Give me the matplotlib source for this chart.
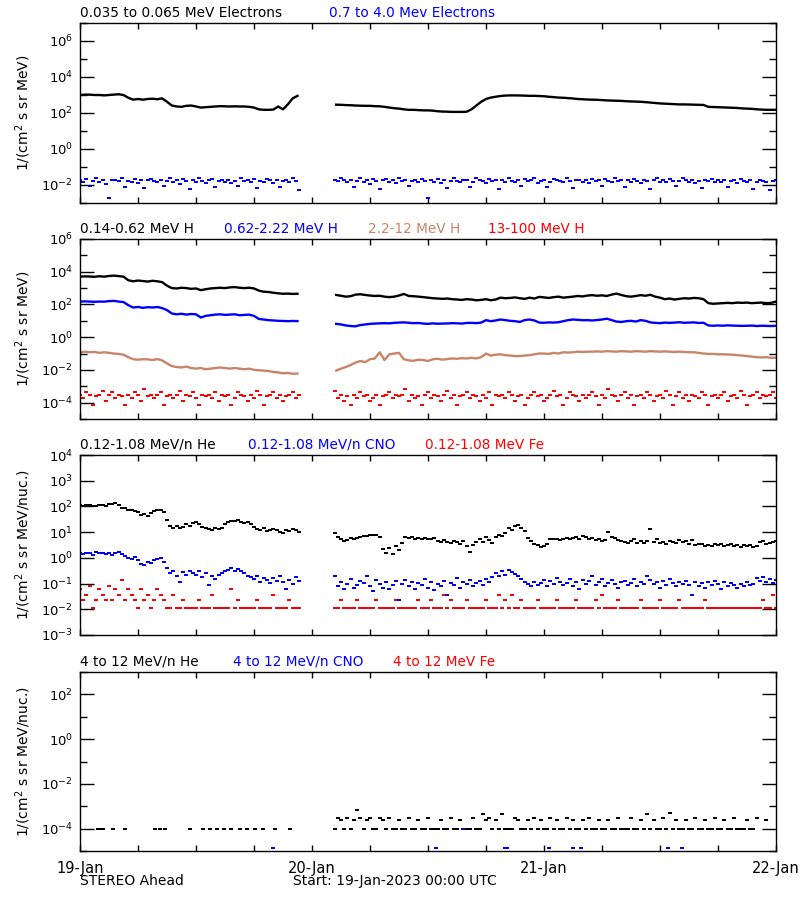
import numpy as np
import matplotlib
matplotlib.use("Agg")
import matplotlib.pyplot as plt
from matplotlib.ticker import FixedLocator, LogFormatterMathtext, NullFormatter

# time axis: hours after 19-Jan-2023 00:00 UTC; data gap ~22.7h .. 26.3h
# 30-min cadence for smooth channels, 20-min cadence for noisy channels

# --- panel 1: electrons ---
e_lo_a = [1000, 1050, 1050, 1000, 1000, 950, 1000, 1050, 1100, 1000, 700, 550, 600, 550, 600, 620,
          580, 650, 420, 260, 230, 220, 250, 260, 230, 200, 210, 220, 230, 240, 235, 230, 235, 230,
          230, 220, 200, 160, 150, 150, 155, 230, 160, 300, 650, 900]
e_lo_b = [290, 285, 275, 270, 260, 255, 250, 250, 240, 235, 220, 200, 185, 175, 160, 150, 150, 145,
          140, 140, 135, 125, 120, 118, 115, 115, 115, 118, 160, 260, 420, 600, 720, 800, 880, 930,
          950, 950, 940, 920, 900, 900, 880, 850, 800, 760, 720, 700, 670, 640, 600, 580, 560, 550,
          540, 520, 500, 490, 480, 470, 450, 440, 430, 420, 400, 380, 360, 340, 330, 320, 310, 300,
          300, 295, 290, 285, 280, 220, 215, 210, 205, 200, 195, 190, 180, 175, 170, 160, 155, 150,
          150, 150]
# units of 1e-2
e_hi_a = [1.8, 1.5, 2.2, 0.9, 1.7, 2.6, 1.4, 1.9, 1.2, 0.2, 1.8, 2.0, 1.6, 2.4, 0.8, 1.7, 1.5, 2.1, 1.3, 1.9,
          0.7, 1.8, 2.2, 1.6, 1.4, 2.0, 0.9, 1.7, 2.3, 1.5, 1.8, 1.2, 2.1, 1.6, 0.6, 1.9, 1.4, 2.5, 1.7, 1.3,
          1.8, 2.2, 0.8, 1.6, 1.9, 1.5, 2.0, 1.3, 1.7, 0.9, 2.4, 1.6, 1.8, 1.4, 2.1, 0.7, 1.7, 1.5, 2.2, 1.9,
          1.3, 1.8, 0.8, 1.6, 2.0, 1.4, 2.3, 1.7, 0.5]
e_hi_b = [1.9, 1.6, 2.3, 1.8, 1.4, 2.0, 0.8, 1.7, 2.5, 1.5, 1.9, 1.2, 2.1, 1.7, 0.6, 1.8, 2.2, 1.5, 1.9, 1.3,
          2.4, 1.6, 1.8, 0.9, 1.7, 2.0, 1.4, 2.2, 1.6, 0.2, 1.8, 1.5, 2.1, 1.3, 1.9, 0.7, 1.7, 2.3, 1.6, 1.4,
          2.0, 1.8, 0.8, 1.5, 2.6, 1.9, 1.7, 1.3, 2.2, 1.6, 1.8, 0.6, 2.0, 1.5, 2.4, 1.7, 1.4, 1.9, 0.9, 2.1,
          1.6, 1.8, 2.3, 1.3, 1.7, 2.0, 0.8, 1.5, 2.2, 1.9, 1.6, 1.4, 2.5, 1.7, 0.7, 1.8, 2.0, 1.5, 1.9, 1.3,
          2.2, 1.6, 1.8, 0.9, 2.1, 1.7, 1.4, 2.4, 1.6, 1.9, 0.8, 1.8, 1.5, 2.2, 1.7, 1.3, 2.0, 1.6, 0.6, 1.9,
          2.3, 1.5, 1.8, 1.4, 2.1, 1.7, 0.9, 1.6, 2.4, 1.8, 1.5, 2.0, 1.3, 1.7, 0.7, 1.9, 1.6, 2.2, 1.4, 1.8,
          1.5, 2.0, 0.8, 1.7, 1.9, 1.3, 2.1, 1.6, 1.4, 1.8, 0.6, 1.5, 2.0, 1.7, 1.4, 0.5, 1.6, 1.8]

# --- panel 2: protons ---
h1_a = [5000, 5200, 5100, 4900, 5300, 5000, 5500, 5800, 5400, 5000, 3000, 2600, 2900, 2700, 2500, 2800,
        2600, 2300, 1400, 1000, 950, 1050, 1000, 900, 950, 750, 850, 950, 1000, 1050, 1000, 1100, 1150,
        1050, 1000, 1050, 950, 700, 600, 580, 520, 480, 450, 460, 440, 450]
h1_b = [380, 340, 300, 320, 400, 420, 380, 350, 330, 340, 300, 280, 300, 350, 440, 330, 320, 300, 280,
        260, 240, 230, 220, 230, 210, 200, 190, 210, 200, 180, 190, 210, 180, 200, 260, 240, 250, 270,
        240, 220, 260, 230, 290, 270, 250, 280, 300, 260, 280, 300, 330, 310, 350, 370, 340, 360, 330,
        400, 460, 380, 320, 300, 330, 370, 340, 390, 300, 260, 210, 230, 200, 220, 240, 230, 250, 240,
        210, 120, 110, 115, 120, 125, 120, 130, 125, 130, 120, 125, 130, 120, 125, 150]
h2_a = [150, 155, 150, 145, 150, 148, 160, 165, 150, 140, 90, 65, 70, 62, 68, 65, 70, 60, 45, 28,
        25, 27, 24, 26, 25, 16, 20, 22, 24, 25, 23, 24, 25, 22, 23, 24, 20, 13, 12, 11,
        10.5, 10, 9.8, 9.5, 9.8, 9.6]
h2_b = [6.5, 6.0, 5.2, 4.8, 4.6, 5.5, 6.0, 6.5, 6.8, 7.0, 7.2, 7.0, 7.5, 7.8,
        8.0, 7.6, 7.2, 7.4, 6.8, 6.5, 7.0, 6.6, 6.8, 6.9, 7.2, 7.0, 6.8, 7.4,
        7.5, 7.2, 7.8, 11, 9.5, 10.5, 12, 11, 10, 9.5, 8.5, 11, 12, 10.5, 7.8,
        7.6, 8.0, 7.8, 8.2, 9.5, 11, 12, 11.5, 10.8, 11, 10.5, 11.2, 12, 13.5, 11,
        9.0, 8.5, 9.5, 10, 9.0, 11, 10, 8.0, 7.5, 7.2, 7.8, 7.5, 7.8, 8.2, 7.6,
        7.8, 8.0, 7.4, 7.6, 5.2, 5.0, 5.2, 5.0, 5.3, 5.1, 5.0, 4.9, 5.0, 5.1, 4.8, 5.0, 4.9, 4.8, 5.0]
h3_a = [0.12, 0.13, 0.12, 0.125, 0.11, 0.12, 0.11, 0.10, 0.095, 0.085,
        0.06, 0.045, 0.042, 0.045, 0.044, 0.04, 0.046, 0.038, 0.025, 0.017,
        0.015, 0.014, 0.016, 0.013, 0.012, 0.013, 0.011, 0.012, 0.013, 0.014,
        0.013, 0.012, 0.013, 0.012, 0.011, 0.012, 0.010, 0.0095, 0.009, 0.0085,
        0.0075, 0.007, 0.0062, 0.0065, 0.0058, 0.006]
h3_b = [0.009, 0.012, 0.015, 0.02, 0.028, 0.035, 0.03, 0.045, 0.05, 0.12, 0.04, 0.09, 0.10, 0.11,
        0.045, 0.038, 0.036, 0.042, 0.040, 0.035, 0.045, 0.048, 0.042, 0.046, 0.05, 0.048, 0.052, 0.05,
        0.055, 0.05, 0.06, 0.10, 0.075, 0.085, 0.09, 0.08, 0.075, 0.07, 0.07, 0.075, 0.08, 0.09, 0.10,
        0.10, 0.095, 0.11, 0.10, 0.12, 0.115, 0.12, 0.13, 0.125, 0.13, 0.13, 0.135, 0.13, 0.14, 0.135,
        0.13, 0.14, 0.135, 0.13, 0.14, 0.135, 0.13, 0.14, 0.135, 0.13, 0.135, 0.13, 0.125, 0.13, 0.125,
        0.12, 0.12, 0.11, 0.10, 0.095, 0.095, 0.09, 0.09, 0.088, 0.085, 0.08, 0.075, 0.07, 0.065, 0.06,
        0.058, 0.06, 0.055, 0.056]
# units of 1e-4
h4_a = [3.1, 1.9, 4.3, 3.1, 0.7, 2.5, 3.1, 5.0, 1.3, 3.1, 4.3, 1.9, 3.1, 2.5, 0.7, 3.1, 1.9, 4.3, 3.1, 1.3,
        7.0, 2.5, 3.1, 1.9, 3.1, 4.3, 0.7, 2.5, 3.1, 1.9, 3.1, 5.0, 1.3, 3.1, 2.5, 4.3, 1.9, 0.7, 3.1, 2.5,
        3.1, 1.9, 4.3, 1.3, 3.1, 2.5, 3.1, 0.7, 1.9, 4.3, 3.1, 2.5, 1.3, 3.1, 1.9, 5.0, 3.1, 0.7, 2.5, 3.1,
        4.3, 1.9, 3.1, 1.3, 2.5, 3.1, 4.3, 1.9, 3.1]
h4_b = [5.0, 1.9, 3.1, 1.3, 2.5, 0.7, 3.1, 1.9, 4.3, 2.5, 3.1, 1.3, 1.9, 3.1, 0.7, 2.5, 3.1, 4.3, 1.9, 3.1,
        2.5, 3.1, 7.0, 1.3, 3.1, 1.9, 2.5, 0.7, 3.1, 4.3, 1.9, 3.1, 2.5, 1.3, 3.1, 5.0, 1.9, 3.1, 0.7, 2.5,
        3.1, 4.3, 1.9, 3.1, 2.5, 1.3, 3.1, 1.9, 4.3, 0.7, 3.1, 2.5, 3.1, 1.9, 4.3, 3.1, 1.3, 2.5, 3.1, 0.7,
        1.9, 3.1, 4.3, 2.5, 3.1, 1.3, 1.9, 3.1, 5.0, 2.5, 3.1, 0.7, 1.9, 4.3, 3.1, 2.5, 1.3, 3.1, 1.9, 3.1,
        4.3, 2.5, 0.7, 3.1, 1.9, 7.0, 3.1, 2.5, 1.3, 3.1, 4.3, 1.9, 3.1, 0.7, 2.5, 3.1, 1.9, 4.3, 3.1, 1.3,
        2.5, 3.1, 1.9, 5.0, 3.1, 0.7, 2.5, 4.3, 1.9, 3.1, 1.3, 3.1, 2.5, 1.9, 4.3, 3.1, 0.7, 2.5, 3.1, 1.9,
        3.1, 4.3, 1.3, 2.5, 3.1, 1.9, 5.0, 3.1, 0.7, 2.5, 3.1, 4.3, 1.9, 3.1, 2.5, 3.1, 4.3, 1.9]

# --- panel 3: low energy ions (20-min) ---
he_a = [110, 105, 115, 112, 100, 108, 118, 110, 105,
        120, 125, 130, 115, 90, 85, 70, 75, 65,
        60, 45, 50, 42, 55, 65, 70, 75, 60,
        30, 17, 15, 18, 14, 16, 20, 18, 22,
        25, 20, 16, 14, 13, 12, 14, 13, 15,
        20, 24, 28, 26, 30, 25, 22, 24, 20,
        16, 13, 12, 14, 11, 12, 13, 12, 10,
        9, 12, 11, 13, 12, 10]
he_b = [9, 6.5, 5.5, 4.5, 5, 6, 5.5, 5.8, 6.5,
        7, 6.8, 7.5, 8, 7.6, 6.5, 2.2, 1.6, 2.5,
        1.4, 3.0, 2.1, 3.8, 6.6, 5.8, 6.2, 5.5, 5.9,
        5.6, 6.0, 5.2, 5.5, 5.8, 4.4, 4.0, 4.8, 4.2,
        3.9, 4.5, 4.1, 3.6, 4.6, 2.8, 1.7, 3.2, 4.0,
        5.5, 4.0, 6.3, 4.8, 3.8, 6.5, 8.0, 7.2, 9.5,
        14, 12, 17, 19, 15, 11, 6, 4.5, 3.5,
        3.2, 2.6, 2.9, 3.6, 5.4, 5.6, 5.2, 5.0, 5.5,
        5.8, 5.2, 6.0, 6.5, 5.4, 6.8, 6.2, 5.5, 5.9,
        4.8, 5.6, 4.6, 4.9, 10, 6.5, 5.8, 5.0, 4.5,
        4.2, 3.8, 4.5, 5.2, 3.9, 4.6, 3.7, 4.4, 13,
        4.0, 5.5, 3.8, 4.3, 3.6, 4.5, 4.0, 3.9, 5.0,
        4.2, 4.6, 3.5, 4.8, 3.2, 3.6, 3.4, 3.0, 3.3,
        2.9, 3.4, 3.1, 3.6, 2.8, 3.2, 3.5, 3.0, 3.3,
        2.7, 3.1, 2.8, 3.2, 2.6, 3.0, 4.0, 4.5, 3.6,
        3.8, 4.2, 4.4]
cno_a = [1.5, 1.4, 1.6, 1.5, 1.3, 1.7, 1.5, 1.6, 1.4,
         1.5, 1.3, 1.6, 1.7, 1.4, 1.2, 1.0, 0.9, 1.1,
         0.8, 0.6, 0.55, 0.7, 0.65, 0.8, 0.9, 1.0, 0.7,
         0.4, 0.25, 0.3, 0.2, 0.12, 0.28, 0.22, 0.3, 0.25,
         0.22, 0.3, 0.18, 0.25, 0.09, 0.2, 0.15, 0.22, 0.25,
         0.3, 0.35, 0.4, 0.32, 0.38, 0.3, 0.25, 0.2, 0.18,
         0.15, 0.2, 0.12, 0.17, 0.14, 0.11, 0.16, 0.13, 0.2,
         0.12, 0.06, 0.14, 0.1, 0.18, 0.13]
cno_b = [0.2, 0.08, 0.12, 0.06, 0.1, 0.15, 0.07, 0.09, 0.13,
         0.11, 0.2, 0.08, 0.05, 0.14, 0.1, 0.07, 0.12, 0.06,
         0.09, 0.13, 0.023, 0.1, 0.14, 0.08, 0.12, 0.06, 0.11,
         0.09, 0.15, 0.07, 0.12, 0.055, 0.1, 0.08, 0.13, 0.035,
         0.11, 0.09, 0.16, 0.07, 0.12, 0.1, 0.14, 0.08, 0.11,
         0.13, 0.09, 0.15, 0.12, 0.18, 0.25, 0.2, 0.3, 0.22,
         0.35, 0.28, 0.24, 0.2, 0.15, 0.12, 0.1, 0.08, 0.12,
         0.09, 0.11, 0.14, 0.08, 0.13, 0.1, 0.16, 0.12, 0.09,
         0.11, 0.15, 0.08, 0.12, 0.06, 0.14, 0.1, 0.13, 0.2,
         0.09, 0.12, 0.15, 0.08, 0.11, 0.14, 0.1, 0.07, 0.12,
         0.13, 0.09, 0.11, 0.15, 0.08, 0.12, 0.1, 0.2, 0.14,
         0.1, 0.12, 0.07, 0.13, 0.09, 0.15, 0.11, 0.08, 0.12,
         0.1, 0.13, 0.09, 0.035, 0.12, 0.08, 0.11, 0.07, 0.12,
         0.09, 0.13, 0.1, 0.06, 0.12, 0.08, 0.11, 0.09, 0.07,
         0.1, 0.08, 0.12, 0.09, 0.1, 0.16, 0.13, 0.18, 0.12,
         0.15, 0.11, 0.14]
# units of 1e-2
fe_a = [6, 2.3, 3.5, 8, 1.1, 2.3, 6, 3.5, 2.3,
        8, 2.3, 6, 3.5, 14, 2.3, 6, 3.5, 2.3,
        1.1, 6, 2.3, 3.5, 1.1, 2.3, 6, 3.5, 2.3,
        1.1, 1.1, 3.5, 1.1, 1.1, 2.3, 1.1, 1.1, 1.1,
        1.1, 2.3, 1.1, 1.1, 1.1, 3.5, 1.1, 1.1, 1.1,
        1.1, 1.1, 6, 1.1, 2.3, 1.1, 1.1, 1.1, 1.1,
        1.1, 2.3, 1.1, 1.1, 1.1, 1.1, 3.5, 1.1, 1.1,
        1.1, 1.1, 2.3, 1.1, 1.1, 1.1]
fe_b = [1.1, 1.1, 2.3, 1.1, 1.1, 1.1, 1.1, 2.3, 1.1,
        1.1, 1.1, 1.1, 1.1, 2.3, 1.1, 1.1, 1.1, 1.1,
        1.1, 2.3, 1.1, 1.1, 1.1, 1.1, 1.1, 1.1, 2.3,
        1.1, 1.1, 1.1, 2.3, 1.1, 1.1, 1.1, 3.5, 1.1,
        2.3, 1.1, 1.1, 1.1, 1.1, 2.3, 1.1, 1.1, 1.1,
        1.1, 1.1, 2.3, 1.1, 1.1, 1.1, 3.5, 1.1, 2.3,
        1.1, 3.5, 1.1, 1.1, 2.3, 1.1, 1.1, 1.1, 1.1,
        2.3, 1.1, 1.1, 1.1, 1.1, 1.1, 2.3, 1.1, 1.1,
        1.1, 1.1, 1.1, 2.3, 1.1, 1.1, 1.1, 1.1, 1.1,
        2.3, 1.1, 3.5, 1.1, 1.1, 1.1, 1.1, 2.3, 1.1,
        1.1, 1.1, 1.1, 1.1, 1.1, 2.3, 1.1, 1.1, 1.1,
        1.1, 1.1, 2.3, 1.1, 1.1, 1.1, 1.1, 1.1, 2.3,
        1.1, 1.1, 1.1, 1.1, 1.1, 1.1, 1.1, 2.3, 1.1,
        1.1, 1.1, 1.1, 1.1, 1.1, 1.1, 1.1, 1.1, 1.1,
        1.1, 1.1, 1.1, 1.1, 1.1, 1.1, 1.1, 2.3, 1.1,
        1.1, 3.5, 1.1]

# --- panel 4: high energy ions ---
he4_a_t = [1.9, 2.2, 2.4, 3.4, 4.7, 7.8, 8.3, 8.8, 11.4, 12.7, 13.4, 14.2, 14.9, 15.6, 16.6,
           17.3, 18.1, 18.9, 20.2, 21.7]
he4_a = [1e-4] * len(he4_a_t)
# units of 1e-4, 20-min cadence
he4_b = [1, 3, 2.5, 1, 3, 1, 2.5, 7, 3,
         1, 2.5, 3, 1, 1, 3, 2.5, 1, 3,
         1, 1, 2.5, 1, 1, 3, 1, 1, 2.5,
         1, 1, 3, 1, 1, 1, 2.5, 1, 1,
         3, 1, 1, 2.5, 1, 1, 1, 3, 1,
         1, 4.4, 2.5, 3, 1, 2.5, 1, 4.4, 1,
         1, 1, 3, 2.5, 1, 1, 2.5, 1, 3,
         1, 2.5, 1, 1, 3, 1, 2.5, 1, 1,
         3, 1, 2.5, 1, 1, 2.5, 1, 3, 1,
         1, 2.5, 1, 1, 2.5, 1, 1, 3, 1,
         1, 1, 3, 1, 1, 2.5, 1, 4.4, 1,
         2.5, 1, 1, 3, 1, 5, 1, 2.5, 1,
         1, 2.5, 1, 1, 3, 1, 1, 2.5, 1,
         1, 3, 1, 1, 2.5, 1, 1, 3, 1,
         1, 1, 2.5, 1, 1, 3, np.nan, np.nan, 2.5,
         np.nan, np.nan, np.nan]
cno4_t = [20.0, 36.8, 39.6, 44.0, 44.2, 48.5, 51.0, 51.8, 60.8, 62.3]
cno4 = [1.3e-5, 1.3e-5, 1e-4, 1.3e-5, 1.3e-5, 1.3e-5, 1.3e-5, 1.3e-5, 1.3e-5, 1.3e-5]

day_labels = ["19-Jan", "20-Jan", "21-Jan", "22-Jan"]
BROWN = "#c98468"
# short horizontal dash, like the plotted data points of the original
DASH = [(-1.4, -0.55), (1.4, -0.55), (1.4, 0.55), (-1.4, 0.55)]


def t30(vals, start):
    return start + 0.5 * np.arange(len(vals))


def t20(vals, start):
    return start + np.arange(len(vals)) / 3.0


def line(ax, a, b, color, scale=1.0):
    ax.plot(t30(a, 0.0), np.array(a) * scale, color=color, lw=1.7)
    ax.plot(t30(b, 26.5), np.array(b) * scale, color=color, lw=1.7)


def dots(ax, a, b, color, scale=1.0, ms=3.4):
    ax.plot(t20(a, 0.0), np.array(a, dtype=float) * scale, ls="none", marker=DASH,
            color=color, ms=ms, mew=0)
    ax.plot(t20(b, 26.0 + 1 / 3.0), np.array(b, dtype=float) * scale, ls="none", marker=DASH,
            color=color, ms=ms, mew=0)


def setup(ax, ylo, yhi, major, ylabel):
    ax.set_yscale("log")
    ax.set_xlim(0, 72)
    ax.set_ylim(10.0 ** ylo, 10.0 ** yhi)
    majors = [10.0 ** k for k in major]
    minors = [10.0 ** k for k in range(ylo, yhi + 1) if k not in major]
    ax.yaxis.set_major_locator(FixedLocator(majors))
    ax.yaxis.set_minor_locator(FixedLocator(minors))
    ax.yaxis.set_major_formatter(LogFormatterMathtext())
    ax.yaxis.set_minor_formatter(NullFormatter())
    ax.set_xticks(np.arange(0, 73, 6))
    ax.tick_params(axis="y", which="major", direction="in", length=10, width=1,
                   right=True, labelsize=9.5, pad=5)
    ax.tick_params(axis="y", which="minor", direction="in", length=5, width=1, right=True)
    ax.tick_params(axis="x", which="major", direction="in", length=4, width=1, top=True,
                   labelsize=10.5, pad=7)
    ax.set_xticklabels([])
    for s in ax.spines.values():
        s.set_linewidth(1)
    ax.set_ylabel(ylabel, fontsize=10)
    ax.yaxis.set_label_coords(-0.067, 0.5)


def titles(ax, items):
    for xpix, text, color in items:
        ax.annotate(text, xy=((xpix - 80) / 696.0, 1.0), xycoords="axes fraction",
                    xytext=(0, 2.5), textcoords="offset points", va="bottom", ha="left",
                    fontsize=9.8, color=color)


plt.rcParams["font.family"] = ["DejaVu Sans"]
fig = plt.figure(figsize=(8, 9), dpi=100)
ax1 = fig.add_axes([0.1, 1 - 203 / 900, 0.87, 0.2])
ax2 = fig.add_axes([0.1, 1 - 419 / 900, 0.87, 0.2])
ax3 = fig.add_axes([0.1, 1 - 635 / 900, 0.87, 0.2])
ax4 = fig.add_axes([0.1, 1 - 851 / 900, 0.87, 179 / 900])

lab1 = r"1/(cm$^2$ s sr MeV)"
lab2 = r"1/(cm$^2$ s sr MeV/nuc.)"

# panel 1
line(ax1, e_lo_a, e_lo_b, "black")
dots(ax1, e_hi_a, e_hi_b, "blue", 1e-2)
setup(ax1, -3, 7, [-2, 0, 2, 4, 6], lab1)
titles(ax1, [(80, "0.035 to 0.065 MeV Electrons", "black"),
             (329, "0.7 to 4.0 Mev Electrons", "blue")])

# panel 2
line(ax2, h1_a, h1_b, "black")
line(ax2, h2_a, h2_b, "blue")
line(ax2, h3_a, h3_b, BROWN)
dots(ax2, h4_a, h4_b, "red", 1e-4)
setup(ax2, -5, 6, [-4, -2, 0, 2, 4, 6], lab1)
titles(ax2, [(80, "0.14-0.62 MeV H", "black"), (224, "0.62-2.22 MeV H", "blue"),
             (368, "2.2-12 MeV H", BROWN), (488, "13-100 MeV H", "red")])

# panel 3
dots(ax3, fe_a, fe_b, "red", 1e-2)
dots(ax3, cno_a, cno_b, "blue")
dots(ax3, he_a, he_b, "black", ms=3.0)
setup(ax3, -3, 4, [-3, -2, -1, 0, 1, 2, 3, 4], lab2)
titles(ax3, [(80, "0.12-1.08 MeV/n He", "black"), (248, "0.12-1.08 MeV/n CNO", "blue"),
             (425, "0.12-1.08 MeV Fe", "red")])

# panel 4
ax4.plot(he4_a_t, he4_a, ls="none", marker=DASH, color="black", ms=2.2, mew=0)
dots(ax4, [], he4_b, "black", 1e-4, ms=2.8)
ax4.plot(cno4_t, cno4, ls="none", marker=DASH, color="blue", ms=2.4, mew=0)
setup(ax4, -5, 3, [-4, -2, 0, 2], lab2)
titles(ax4, [(80, "4 to 12 MeV/n He", "black"), (233, "4 to 12 MeV/n CNO", "blue"),
             (393, "4 to 12 MeV Fe", "red")])
ax4.set_xticklabels([day_labels[i // 4] if i % 4 == 0 else "" for i in range(13)])

fig.text(0.1, 1 - 881 / 900, "STEREO Ahead", fontsize=10, va="center", ha="left")
fig.text(293 / 800, 1 - 881 / 900, "Start: 19-Jan-2023 00:00 UTC", fontsize=10,
         va="center", ha="left")

fig.savefig("out.png", dpi=100)
